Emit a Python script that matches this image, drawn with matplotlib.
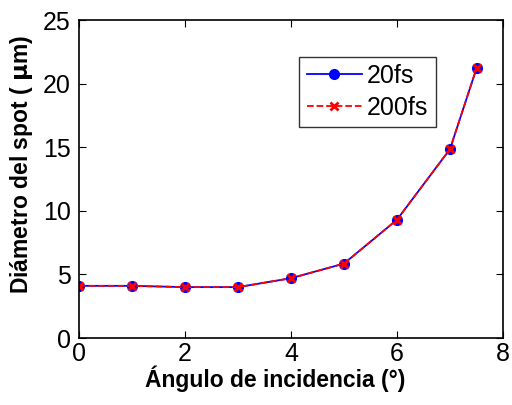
import numpy as np
import matplotlib
matplotlib.use('Agg')
import matplotlib.pyplot as plt

angulo = [0, 1, 2, 3, 4, 5, 6, 7, 7.5]
spot_20fs = [4.1, 4.1, 4.0, 4.0, 4.7, 5.85, 9.3, 14.85, 21.2]
spot_200fs = [4.1, 4.1, 4.0, 4.0, 4.7, 5.85, 9.3, 14.85, 21.2]

plt.rcParams['font.family'] = 'Liberation Sans'

fig = plt.figure(figsize=(5.12, 4.05), dpi=100)
ax = fig.add_axes([79 / 512, 1 - 338 / 405, (503 - 79) / 512, (338 - 20) / 405])

ax.plot(angulo, spot_20fs, '-o', color='blue', lw=1.3, ms=7, label='20fs')
ax.plot(angulo, spot_200fs, '--x', color='red', lw=1.3, ms=6, mew=2, label='200fs')

ax.set_xlim(0, 8)
ax.set_ylim(0, 25)
ax.set_xticks([0, 2, 4, 6, 8])
ax.set_yticks([0, 5, 10, 15, 20, 25])
ax.tick_params(direction='in', top=True, right=True, labelsize=18, length=5)
ax.tick_params(axis='y', pad=6)
ax.tick_params(axis='x', pad=3)
for s in ax.spines.values():
    s.set_linewidth(1.2)

ax.set_xlabel('Ángulo de incidencia (°)', fontsize=16.5, fontweight='bold')
ax.set_ylabel('Diámetro del spot ( $\\mathbf{\\mu}$m)', fontsize=16.5, fontweight='bold')
# labels sit a bit off-centre in the original
ax.xaxis.set_label_coords(0.462, -0.087)
ax.yaxis.set_label_coords(-0.104, 0.545)

leg = ax.legend(loc='upper left', bbox_to_anchor=(0.52, 0.885), fontsize=18, frameon=True,
                fancybox=False, edgecolor='black', handlelength=2.2, handletextpad=0.2,
                borderpad=0.3, labelspacing=0.3, borderaxespad=0)
leg.get_frame().set_linewidth(1.0)

fig.savefig('out.png', dpi=100)
